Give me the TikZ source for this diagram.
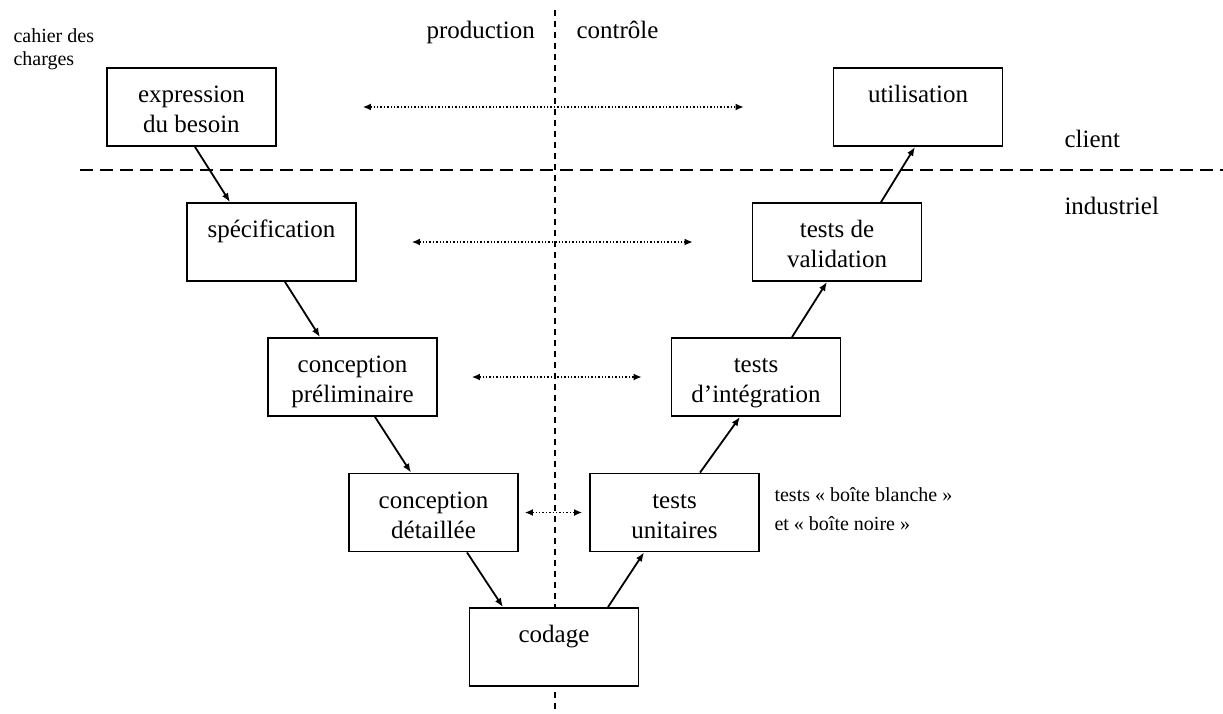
\documentclass[tikz,border=0pt]{standalone}
\usepackage{fontspec}
\setmainfont{Liberation Serif}
\usetikzlibrary{arrows.meta,backgrounds}

\begin{document}
\begin{tikzpicture}[x=1pt,y=-1pt,
  every node/.style={font=\fontsize{25}{30}\selectfont},
  etape/.style={draw,line width=1.8pt,fill=white,minimum width=169pt,minimum height=78pt,align=center,inner sep=0pt,
    execute at begin node={\rule{0pt}{60pt}},execute at end node=\strut},
  fleche/.style={-{Latex[length=9pt,width=7pt]},line width=1.8pt},
  lien/.style={{Latex[length=8pt,width=7pt]}-{Latex[length=8pt,width=7pt]},line width=1.4pt,dotted},
  petit/.style={font=\fontsize{20}{23}\selectfont,align=left,anchor=base west}]
\useasboundingbox (0,0) rectangle (1223,713);
\node[etape] (besoin) at (191.5,107) {expression\\du besoin};
\node[etape] (util) at (918,107) {utilisation\\};
\node[etape] (spec) at (271.5,242) {spécification\\};
\node[etape] (valid) at (837,242) {tests de\\validation};
\node[etape] (prelim) at (352.5,377) {conception\\préliminaire};
\node[etape] (integ) at (756,377) {tests\\d’intégration};
\node[etape] (detail) at (433.5,512.5) {conception\\détaillée};
\node[etape] (unit) at (674.5,512.5) {tests\\unitaires};
\node[etape] (codage) at (554,647) {codage\\};
\node[anchor=base west] (prod) at (423,38) {production};
\node[anchor=base west] (ctrl) at (573,38) {contrôle};
\node[anchor=base west] (client) at (1061,147) {client};
\node[anchor=base west] (indus) at (1061,214) {industriel};
\node[petit] (cahier) at (10,65) {cahier des\\charges};
\node[petit,font=\fontsize{20}{29}\selectfont] (boites) at (771,530) {tests « boîte blanche »\\et « boîte noire »};
\coordinate (haut) at (555,10);
\coordinate (bas) at (555,713);
\coordinate (gauche) at (80,170);
\coordinate (droite) at (1223,170);
\begin{scope}[on background layer]
\draw[line width=1.8pt,dash pattern=on 6pt off 5pt] (haut) -- (bas);
\draw[line width=1.8pt,dash pattern=on 13pt off 7pt] (gauche) -- (droite);
\end{scope}
\draw[fleche] ([xshift=3.5pt]besoin.south) -- ([xshift=-41.5pt]spec.north);
\draw[fleche] ([xshift=13.5pt]spec.south) -- ([xshift=-32.5pt]prelim.north);
\draw[fleche] ([xshift=22.5pt]prelim.south) -- ([xshift=-22.5pt]detail.north);
\draw[fleche] ([xshift=33.5pt]detail.south) -- ([xshift=-51pt]codage.north);
\draw[fleche] ([xshift=54pt]codage.north) -- ([xshift=-30.5pt]unit.south);
\draw[fleche] ([xshift=25.5pt]unit.north) -- ([xshift=-16pt]integ.south);
\draw[fleche] ([xshift=36pt]integ.north) -- ([xshift=-10pt]valid.south);
\draw[fleche] ([xshift=44pt]valid.north) -- ([xshift=-3pt]util.south);
\draw[lien,shorten <=86pt,shorten >=89pt] (besoin) -- (util);
\draw[lien,shorten <=55pt,shorten >=59pt] (spec) -- (valid);
\draw[lien,shorten <=34pt,shorten >=29pt] (prelim) -- (integ);
\draw[lien,shorten <=6pt,shorten >=7pt] (detail) -- (unit);
\end{tikzpicture}
\end{document}
